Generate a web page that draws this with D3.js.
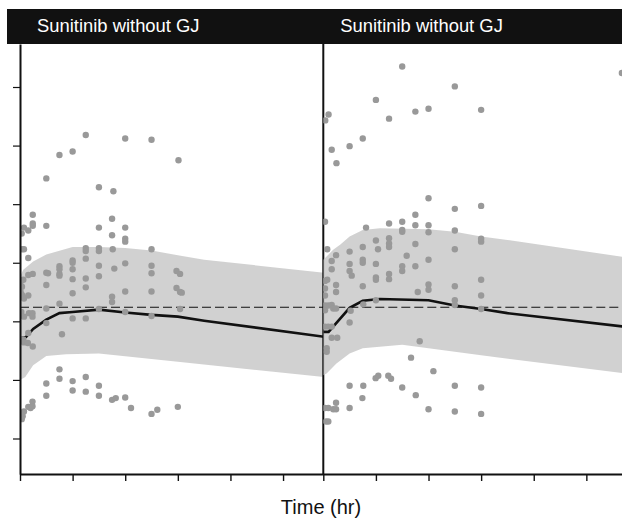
<!DOCTYPE html>
<html>
  <head>
    <meta charset='utf-8'>
    <title></title>
    <script src='https://d3js.org/d3.v7.min.js'></script>
    <style>
      body { margin: 0; background: #fff; }
      svg { display: block; font-family: 'Liberation Sans', Arial, Helvetica, sans-serif; }
      .axis path, .axis line { fill: none; stroke: #111; }
      .axis text { display: none; }
    </style>
  </head>
  <body>
  <script type='text/javascript'>

    // panel titles + axis ticks (no tick labels in the original)
    var panelNames = ['Sunitinib without GJ', 'Sunitinib without GJ'];
    var xTicks = [0, 4, 8, 12, 16, 20];
    var yTicks = [1, 2, 3, 4, 5, 6, 7];
    var refLevel = 3.24;

    // observed points [time hr, value]
    var leftObs = [
      [2,5.44],[3,5.84],[4,5.90],[5,6.18],[6,5.29],[7.1,5.22],[8,6.12],[10,6.10],[12.05,5.75],
      [0.97,4.82],[0.3,4.60],[0.97,4.67],[0.97,4.63],[0.63,4.55],[0.13,4.50],[2,4.63],[6,4.60],[7,4.75],[7,4.47],[8,4.60],[8,4.41],[8,4.36],
      [0.15,4.23],[0.3,4.23],[0.63,4.08],[5,4.25],[5,4.20],[6,4.25],[6,4.20],[7.05,4.23],[10,4.23],
      [4,4.04],[4,4.00],[3,3.94],[3,3.89],[3,3.81],[3,3.78],[2,3.83],[2.13,3.82],[0.63,3.79],[0.97,3.81],
      [5,4.07],[6,3.95],[7.17,3.90],[8,3.99],[10,3.95],[10,3.82],[11.9,3.86],[12.17,3.81],
      [4,3.89],[4,3.72],[5,3.73],[6,3.77],[0.25,3.71],[0.05,3.68],[0.15,3.59],[0.05,3.50],[0.15,3.45],[2,3.62],[5,3.58],[4,3.48],
      [0.63,3.44],[8,3.51],[10,3.51],[11.9,3.57],[12.17,3.50],[12.3,3.49],
      [0.3,3.39],[7,3.42],[7,3.33],[3,3.30],[2,3.22],[6,3.21],[12.17,3.21],[8,3.16],[10,3.09],[0.1,3.16],[0.3,3.08],[0.68,3.14],
      [0.95,3.14],[0.95,3.08],[4,3.05],[5,3.05],[2,2.97],[3.19,2.78],[0.63,2.80],[0.25,2.69],[0.3,2.64],[0.6,2.63],[0.97,2.57],
      [3,2.18],[3,2.02],[2,1.94],[2,1.73],[4,1.98],[4,1.82],[5,2.05],[5,1.80],[6,1.90],[6,1.73],[7,1.66],[7.28,1.69],[8,1.70],
      [8.44,1.52],[10,1.42],[10.44,1.49],[12,1.54],
      [0.95,1.63],[0.95,1.55],[0.63,1.54],[0.8,1.52],[0.3,1.46],[0.2,1.38],[0.13,1.33],[0.05,1.37]
    ];

    var rightObs = [
      [0.4,6.53],[0.15,6.43],[0.64,5.93],[1,5.70],[2,5.99],[3,6.12],[4,6.78],[5,6.46],[6,7.35],[7,6.58],[8,6.63],[10,7.01],[12,6.61],[22.7,7.24],
      [0.13,4.70],[8,5.10],[10,4.92],[12,4.97],[3.25,4.60],[5,4.67],[6,4.70],[6,4.56],[6,4.53],[7,4.82],[7,4.64],[8,4.64],[8,4.52],[10,4.55],[12,4.41],[12,4.36],
      [0.3,4.23],[0.97,4.13],[0.64,4.03],[0.64,3.89],[2,4.19],[3,4.27],[4,4.38],[4.16,4.23],[5,4.42],[5,4.33],[5,4.27],[7,4.32],[10,4.23],[6.34,4.12],
      [3,4.05],[3,4.00],[2,3.98],[4,3.98],[2,3.86],[2.16,3.78],[6,3.94],[6,3.86],[7,3.94],[8,4.05],[5,3.81],[5,3.72],[4,3.75],[4,3.71],[3,3.60],
      [0.3,3.71],[0.13,3.69],[0.97,3.62],[0.13,3.56],[0.13,3.44],[0.97,3.50],[7.18,3.50],[8,3.63],[8,3.54],[10,3.60],[10,3.36],[12,3.71],[12,3.44],
      [4,3.36],[3.04,3.29],[0.13,3.27],[0.38,3.27],[0.64,3.28],[0.76,3.22],[0.97,3.22],[0.13,3.19],[2.08,3.18],[2,2.98],[12,3.21],[10,3.28],
      [0.13,2.91],[0.38,2.91],[0.64,2.91],[0.64,2.72],[1.06,2.72],[0.26,2.54],[0.26,2.48],[7.33,2.66],[6.67,2.38],
      [8.37,2.15],[2,1.90],[3.04,1.90],[2.97,1.69],[3.98,2.03],[4.18,2.07],[4.94,2.07],[5.15,2.02],[6,1.87],[7.03,1.74],[8,1.50],
      [10,1.90],[10,1.46],[12,1.87],[12,1.42],
      [2,1.52],[0.13,1.52],[0.38,1.52],[0.76,1.50],[0.97,1.50],[0.97,1.61],[0.2,1.29],[0.38,1.29]
    ];

    // predicted median
    var leftMedian = [[0,2.71],[0.45,2.73],[1,2.87],[2,3.03],[3,3.14],[4,3.16],[6,3.20],[8,3.15],[10,3.11],[12,3.08],[14,3.01],[24,2.71]];
    var rightMedian = [[0,2.82],[0.4,2.82],[2,3.23],[3,3.35],[4.3,3.38],[8,3.36],[10,3.27],[12,3.21],[14,3.14],[24,2.88]];

    // prediction interval edges
    var leftUpper = [[0,3.76],[0.25,3.88],[1,4.02],[2,4.14],[4,4.27],[6,4.27],[8,4.25],[10,4.21],[12,4.13],[14,4.05],[24,3.81]];
    var leftLower = [[0,2.00],[0.4,2.05],[1,2.25],[2,2.41],[3.5,2.44],[6,2.45],[12,2.31],[24,2.03]];
    var rightUpper = [[0,4.05],[0.75,4.22],[1.3,4.31],[2,4.45],[3,4.56],[4.3,4.59],[8,4.57],[10,4.53],[12,4.45],[14,4.39],[24,4.06]];
    var rightLower = [[0,2.08],[0.25,2.11],[1,2.28],[2,2.45],[3,2.54],[6,2.60],[12,2.42],[24,2.08]];

    var panels = [
      { name: panelNames[0], obs: leftObs, med: leftMedian, up: leftUpper, lo: leftLower },
      { name: panelNames[1], obs: rightObs, med: rightMedian, up: rightUpper, lo: rightLower }
    ];

    var width = 622, height = 519;
    var mLeft = 20, mTop = 44;
    var pw = 303.3, ph = 430;

    var x = d3.scaleLinear().domain([0, 23.06]).range([0, pw]);
    var y = d3.scaleLinear().domain([0.394, 7.734]).range([ph, 0]);

    var line = d3.line()
      .x(function(d) { return x(d[0]); })
      .y(function(d) { return y(d[1]); });

    var svg = d3.select('body').append('svg')
      .attr('width', width)
      .attr('height', height)
      .style('background', 'white');

    // strip header
    svg.append('rect')
      .attr('x', 7).attr('y', 9)
      .attr('width', width - 7).attr('height', mTop - 9)
      .attr('fill', '#111');

    var defs = svg.append('defs');

    panels.forEach(function(p, i) {
      var g = svg.append('g').attr('transform', 'translate(' + (mLeft + i * pw) + ',' + mTop + ')');

      defs.append('clipPath').attr('id', 'clip' + i)
        .append('rect').attr('x', 0).attr('y', 0).attr('width', pw).attr('height', ph);

      svg.append('text')
        .attr('x', mLeft + i * pw + 17)
        .attr('y', 32)
        .attr('fill', '#fff')
        .style('font-size', '18.4px')
        .text(p.name);

      // second panel's axis line sits under the band
      if (i > 0) {
        g.append('line')
          .attr('x1', 0).attr('x2', 0)
          .attr('y1', 0).attr('y2', ph)
          .attr('stroke', '#111')
          .attr('stroke-width', 2);
      }

      var inner = g.append('g').attr('clip-path', 'url(#clip' + i + ')');

      inner.append('path')
        .datum(p.up.concat(p.lo.slice().reverse()))
        .attr('d', function(d) { return line(d) + 'Z'; })
        .attr('fill', '#c9c9c9')
        .attr('fill-opacity', 0.85);

      inner.append('line')
        .attr('x1', 0).attr('x2', pw)
        .attr('y1', y(refLevel)).attr('y2', y(refLevel))
        .attr('stroke', '#111')
        .attr('stroke-width', 1.2)
        .attr('stroke-dasharray', '9,4');

      inner.append('path')
        .datum(p.med)
        .attr('d', line)
        .attr('fill', 'none')
        .attr('stroke', '#111')
        .attr('stroke-width', 2.6);

      inner.selectAll('circle')
        .data(p.obs)
        .enter().append('circle')
        .attr('cx', function(d) { return x(d[0]); })
        .attr('cy', function(d) { return y(d[1]); })
        .attr('r', 3.2)
        .attr('fill', '#999');

      if (i === 0) {
        g.append('g')
          .attr('class', 'axis')
          .call(d3.axisLeft(y).tickValues(yTicks).tickSize(7).tickSizeOuter(0).tickFormat(''))
          .call(function(a) {
            a.select('.domain').attr('stroke-width', 2);
            a.selectAll('.tick line').attr('stroke-width', 1.2);
          });
      }

      g.append('g')
        .attr('class', 'axis')
        .attr('transform', 'translate(0,' + ph + ')')
        .call(d3.axisBottom(x).tickValues(xTicks).tickSize(7).tickSizeOuter(0).tickFormat(''))
        .call(function(a) {
          a.select('.domain').attr('stroke-width', 2);
          a.selectAll('.tick line').attr('stroke-width', 1.4);
        });
    });

    svg.append('text')
      .attr('x', mLeft + (width - mLeft) / 2)
      .attr('y', 514)
      .attr('text-anchor', 'middle')
      .attr('fill', '#111')
      .style('font-size', '20px')
      .text('Time (hr)');

  </script>
  </body>
</html>
